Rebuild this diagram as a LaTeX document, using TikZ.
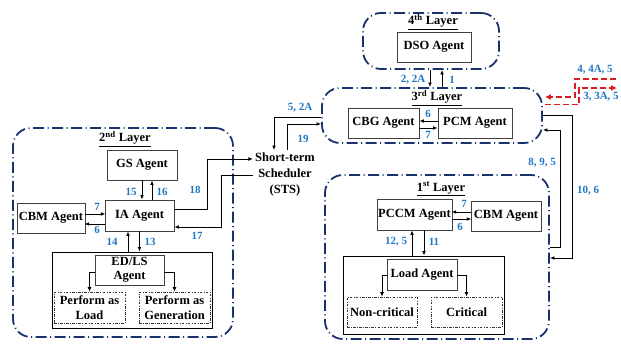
\documentclass[tikz,border=0pt]{standalone}
\usepackage{fontspec}
\setmainfont{Liberation Serif}
\usetikzlibrary{arrows.meta,calc}
\definecolor{navy}{RGB}{25,50,110}
\definecolor{lblue}{RGB}{31,119,196}
\definecolor{dred}{RGB}{215,30,30}
\tikzset{
  layer/.style={draw=navy,line width=1.8pt,dash pattern=on 11pt off 3.5pt on 1pt off 3.5pt,rounded corners=18pt,inner sep=0pt},
  agent/.style={draw=black!75,line width=0.8pt,fill=white,inner sep=0pt,font=\fontsize{12.5}{14}\selectfont\bfseries,align=center},
  holder/.style={draw=black,line width=0.9pt,inner sep=0pt},
  sub/.style={draw=black!80,line width=0.6pt,dash pattern=on 2.5pt off 1.5pt on 0.6pt off 1.5pt,inner sep=0pt,font=\fontsize{12.5}{14.5}\selectfont\bfseries,align=center},
  ttl/.style={font=\fontsize{12.5}{14}\selectfont\bfseries,inner sep=0pt},
  lbl/.style={text=lblue,font=\fontsize{11}{13}\selectfont\bfseries,inner sep=0pt},
  arr/.style={-{Latex[length=4.5pt,width=3.8pt]},line width=0.9pt,black},
  rarr/.style={-{Latex[length=6pt,width=6pt]},line width=1.7pt,dred,dash pattern=on 6pt off 3pt},
}
\begin{document}
\begin{tikzpicture}[x=1pt,y=-1pt]
\useasboundingbox (0,0) rectangle (621,344);
% layers
\node[layer,minimum width=136,minimum height=56] (l4) at (431,41) {};
\node[layer,minimum width=220,minimum height=55] (l3) at (432,115.5) {};
\node[layer,minimum width=220,minimum height=209] (l2) at (123,232.5) {};
\node[layer,minimum width=224,minimum height=164] (l1) at (437,257) {};
% titles
\node[ttl] (t4) at (433,22) {\underline{4\textsuperscript{th} Layer}};
\node[ttl] (t3) at (437,98) {\underline{3\textsuperscript{rd} Layer}};
\node[ttl] (t2) at (125,139) {\underline{2\textsuperscript{nd} Layer}};
\node[ttl] (t1) at (441,189) {\underline{1\textsuperscript{st} Layer}};
% agents
\node[agent,minimum width=74,minimum height=30] (dso) at (434,47) {DSO Agent};
\node[agent,minimum width=71,minimum height=30] (cbg) at (383.5,123) {CBG Agent};
\node[agent,minimum width=74,minimum height=30] (pcm) at (475,123) {PCM Agent};
\node[agent,minimum width=70,minimum height=30] (gs) at (142,165) {GS Agent};
\node[agent,minimum width=69,minimum height=31] (ia) at (139.5,215.5) {IA Agent};
\node[agent,minimum width=68,minimum height=30] (cbmb) at (51,218) {CBM Agent};
\node[holder,minimum width=160,minimum height=76] (box2) at (132,290) {};
\node[agent,minimum width=69,minimum height=30] (edls) at (129.5,270) {ED/LS\\Agent};
\node[sub,minimum width=71,minimum height=31] (pload) at (89.5,307.5) {Perform as\\Load};
\node[sub,minimum width=71,minimum height=31] (pgen) at (174.5,307.5) {Perform as\\Generation};
\node[agent,minimum width=75,minimum height=31] (pccm) at (414.5,214.5) {PCCM Agent};
\node[agent,minimum width=70,minimum height=30] (cbma) at (506,216) {CBM Agent};
\node[holder,minimum width=161,minimum height=78] (box1) at (423.5,295) {};
\node[agent,minimum width=70,minimum height=31] (load) at (422,274.5) {Load Agent};
\node[sub,minimum width=70,minimum height=30] (ncrit) at (382,312) {Non-critical};
\node[sub,minimum width=71,minimum height=30] (crit) at (466.5,312) {Critical};
\node[ttl,align=center,font=\fontsize{12.5}{16}\selectfont\bfseries,inner sep=2pt] (sts) at (285,174) {Short-term\\Scheduler\\(STS)};
% 4th <-> 3rd
\coordinate (a2) at ($(l4.south)+(-1,0)$);
\coordinate (a1) at ($(l4.south)+(11,0)$);
\draw[arr] (a2) -- (a2 |- l3.north);
\draw[arr] (a1 |- l3.north) -- (a1);
\node[lbl] at (413,80) {2, 2A};
\node[lbl] at (452,80) {1};
% CBG <-> PCM
\draw[arr] ($(pcm.west)+(0,-2)$) -- ($(cbg.east)+(0,-2)$);
\draw[arr] ($(cbg.east)+(0,5)$) -- ($(pcm.west)+(0,5)$);
\node[lbl] at (428,114) {6};
\node[lbl] at (428,135) {7};
% STS links
\coordinate (s52) at ($(sts.north)+(-11,0)$);
\coordinate (s19) at ($(sts.north)+(2,0)$);
\draw[arr] ($(l3.west)+(0,1.5)$) -| (s52);
\draw[arr] (s19) |- ($(l3.west)+(0,8.5)$);
\node[lbl] at (300,108) {5, 2A};
\node[lbl] at (303,139) {19};
\draw[arr] ($(ia.east)+(0,-6.5)$) -- ++(33,0) |- ($(sts.west)+(0,-15)$);
\draw[arr] ($(sts.west)+(0,1)$) -- ++(-32,0) |- ($(ia.east)+(0,11.5)$);
\node[lbl] at (195,190) {18};
\node[lbl] at (197,236) {17};
% 2nd layer internals
\draw[arr] ($(cbmb.east)+(0,-4)$) -- ++(20,0);
\draw[arr] ($(ia.west)+(0,8.5)$) -- ++(-20,0);
\node[lbl] at (97,207) {7};
\node[lbl] at (97,230) {6};
\draw[arr] (gs.south) -- (gs.south |- ia.north);
\coordinate (c16) at ($(ia.north)+(12.5,0)$);
\draw[arr] (c16) -- (c16 |- gs.south);
\node[lbl] at (131,192) {15};
\node[lbl] at (162,192) {16};
\coordinate (c14) at ($(box2.north)+(-4,0)$);
\draw[arr] (c14) -- (c14 |- ia.south);
\draw[arr] (ia.south) -- (ia.south |- box2.north);
\node[lbl] at (112,242) {14};
\node[lbl] at (150,242) {13};
\draw[arr] ($(edls.west)+(0,2)$) -| (pload.north);
\draw[arr] ($(edls.east)+(0,2)$) -| (pgen.north);
% 1st layer internals
\draw[arr] ($(cbma.west)+(0,-4)$) -- ++(-19,0);
\draw[arr] ($(pccm.east)+(0,4.5)$) -- ++(19,0);
\node[lbl] at (464,204) {7};
\node[lbl] at (460,227) {6};
\coordinate (c125) at ($(box1.north)+(-11.5,0)$);
\coordinate (c11) at ($(pccm.south)+(9.5,0)$);
\draw[arr] (c125) -- (c125 |- pccm.south);
\draw[arr] (c11) -- (c11 |- box1.north);
\node[lbl] at (396,242) {12, 5};
\node[lbl] at (434,242) {11};
\draw[arr] ($(load.west)+(0,0.5)$) -| (ncrit.north);
\draw[arr] ($(load.east)+(0,0.5)$) -| (crit.north);
% 3rd <-> 1st
\draw[arr] (l3.east) -- ++(30,0) |- ($(l1.east)+(0,1)$);
\draw[arr] ($(l1.east)+(0,-10)$) -- ++(11,0) |- ($(l3.east)+(0,14.5)$);
\node[lbl] at (542,163) {8, 9, 5};
\node[lbl] at (588,191) {10, 6};
% red external links
\coordinate (rA) at (616,79);
\coordinate (rB) at (617,88);
\draw[rarr] (rA) -- ++(-41,0) |- ($(l3.east)+(2,-18.5)$);
\draw[rarr] ($(l3.east)+(2,-11)$) -| ($(rB)+(-38,0)$) -- (rB);
\node[lbl] at (595,70) {4, 4A, 5};
\node[lbl] at (601,97) {3, 3A, 5};
\end{tikzpicture}
\end{document}
